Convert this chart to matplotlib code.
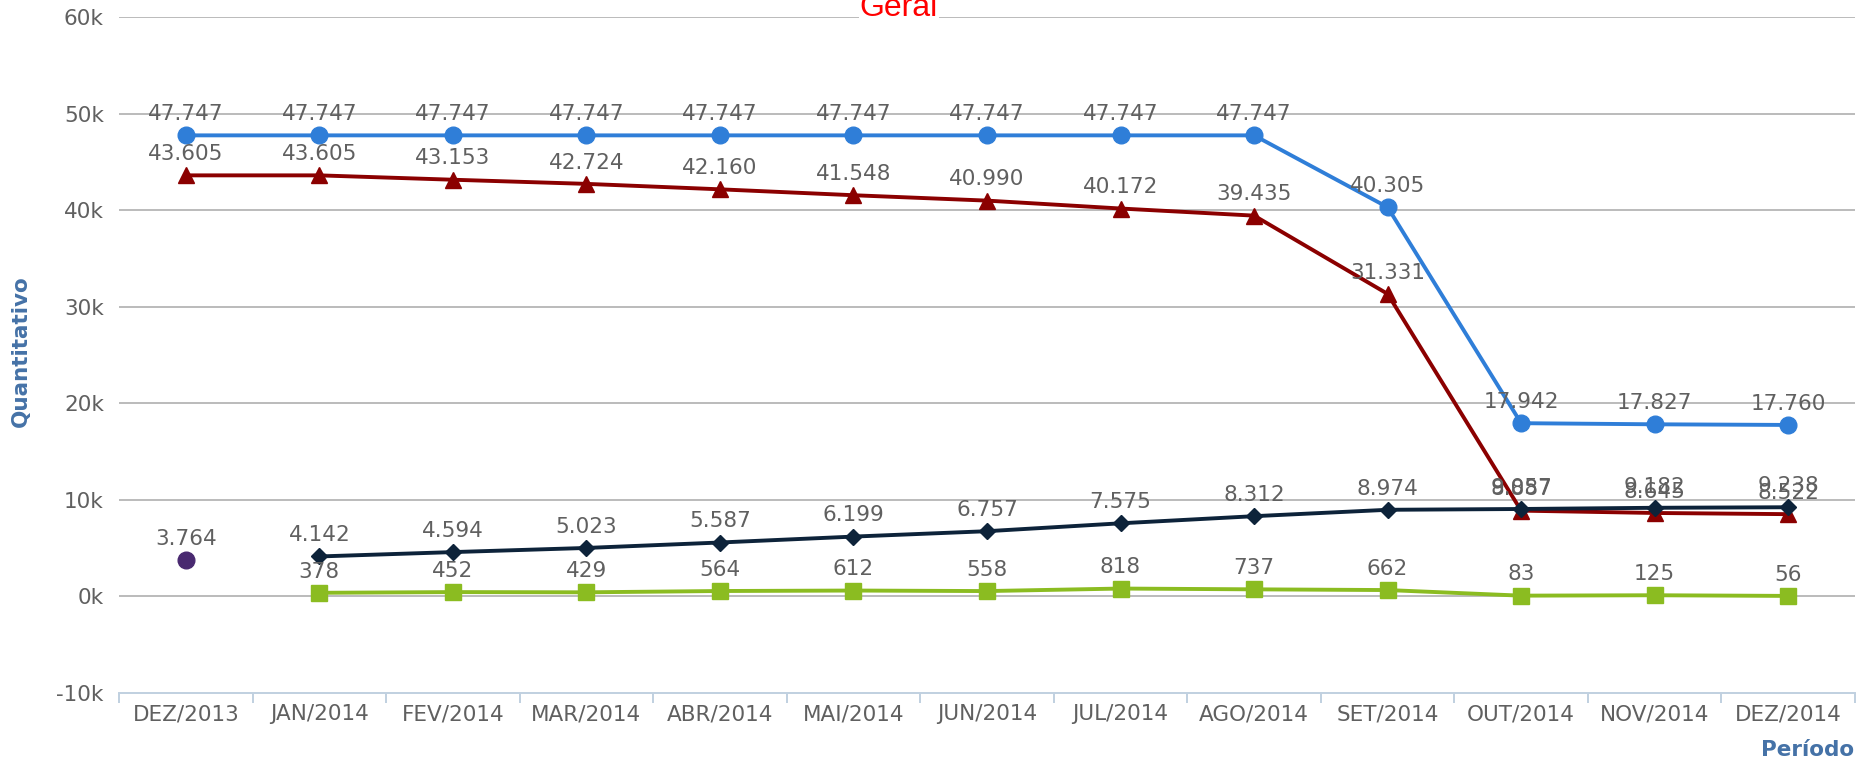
import matplotlib.pyplot as plt
from matplotlib.ticker import FixedLocator

# categories and series
periods = ['DEZ/2013', 'JAN/2014', 'FEV/2014', 'MAR/2014', 'ABR/2014', 'MAI/2014',
           'JUN/2014', 'JUL/2014', 'AGO/2014', 'SET/2014', 'OUT/2014', 'NOV/2014', 'DEZ/2014']
blue_vals = [47747, 47747, 47747, 47747, 47747, 47747, 47747, 47747, 47747, 40305, 17942, 17827, 17760]
red_vals = [43605, 43605, 43153, 42724, 42160, 41548, 40990, 40172, 39435, 31331, 8887, 8645, 8522]
navy_vals = [None, 4142, 4594, 5023, 5587, 6199, 6757, 7575, 8312, 8974, 9057, 9182, 9238]
green_vals = [None, 378, 452, 429, 564, 612, 558, 818, 737, 662, 83, 125, 56]
purple_vals = [3764, None, None, None, None, None, None, None, None, None, None, None, None]

yticks = [-10000, 0, 10000, 20000, 30000, 40000, 50000, 60000]

label_col = '#606060'
fs = 15.5

fig = plt.figure(figsize=(18.6, 7.64), dpi=100)
ax = fig.add_axes([0.064, 0.0929, 0.9333, 0.8848])
ax.set_xlim(-0.5, len(periods) - 0.5)
ax.set_ylim(-10000, 60000)

# grid lines
for y in yticks[1:]:
    ax.axhline(y, color='#BBBBBB', lw=1.4, zorder=1)

series = [
    (blue_vals, '#2F7ED8', 'o', 12),
    (red_vals, '#8B0000', '^', 12),
    (navy_vals, '#0D233A', 'D', 8),
    (green_vals, '#8BBC21', 's', 12),
    (purple_vals, '#492970', 'o', 12),
]

for vals, col, mk, ms in series:
    xs = [i for i, v in enumerate(vals) if v is not None]
    ys = [v for v in vals if v is not None]
    ax.plot(xs, ys, color=col, lw=2.8, marker=mk, markersize=ms, zorder=3)
    for x, y in zip(xs, ys):
        ax.annotate(f"{y:,}".replace(',', '.'), (x, y), xytext=(0, 11),
                    textcoords='offset points', ha='center', va='baseline',
                    fontsize=fs, color=label_col, zorder=5)

# axes styling
for s in ['top', 'right', 'left']:
    ax.spines[s].set_visible(False)
ax.spines['bottom'].set_color('#C0D0E0')
ax.spines['bottom'].set_linewidth(1.4)

ax.set_xticks(range(len(periods)))
ax.set_xticklabels(periods, fontsize=fs, color=label_col)
ax.tick_params(axis='x', which='major', length=0, pad=8)
ax.xaxis.set_minor_locator(FixedLocator([i - 0.5 for i in range(len(periods) + 1)]))
ax.tick_params(axis='x', which='minor', length=7, width=1.4, color='#C0D0E0', direction='out')

ax.set_yticks(yticks)
ax.set_yticklabels([f"{int(t / 1000)}k" for t in yticks], fontsize=fs, color=label_col)
ax.tick_params(axis='y', length=0, pad=11)

fig.text(0.011, 0.54, 'Quantitativo', rotation=90, ha='center', va='center',
         fontsize=15.5, fontweight='bold', color='#4572A7')
fig.text(0.997, 0.018, 'Período', ha='right', va='center',
         fontsize=15.5, fontweight='bold', color='#4572A7')

fig.text(0.4833, 0.99, 'Geral', ha='center', va='center', fontsize=23,
         color='red', family='Liberation Sans', zorder=10,
         bbox=dict(facecolor='white', edgecolor='none', pad=1))

fig.savefig('out.png', dpi=100)
